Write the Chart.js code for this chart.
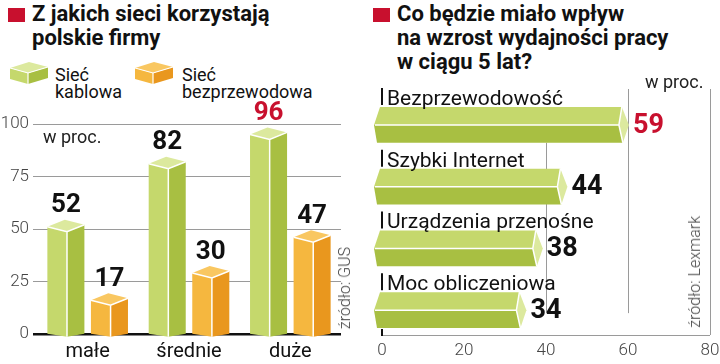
<!DOCTYPE html>
<html>
<head>
<meta charset="utf-8">
<script src="https://cdn.jsdelivr.net/npm/chart.js@4.4.0/dist/chart.umd.min.js"></script>
<style>
  body { margin: 0; background: #fff; font-family: Roboto, sans-serif; color: #111; }
  #page { position: relative; width: 720px; height: 364px; overflow: hidden; }
  .abs { position: absolute; }
  .title { font-size: 22px; font-weight: 700; line-height: 24px; white-space: nowrap; }
  .sq { width: 17px; height: 14px; background: #c8102e; }
  .leg { font-size: 18px; line-height: 17px; white-space: nowrap; }
  .unit { font-size: 18px; line-height: 20px; color: #222; }
  .src { font-size: 16px; font-weight: 300; color: #444; line-height: 18px; white-space: nowrap;
         writing-mode: vertical-rl; transform: rotate(180deg); }
  canvas { position: absolute; top: 0; }
</style>
</head>
<body>
<div id="page">
  <div class="abs sq" style="left:8px;top:8px"></div>
  <div class="abs title" style="left:32px;top:2px">Z jakich sieci korzystają<br>polskie firmy</div>

  <svg class="abs" style="left:10px;top:61px" width="40" height="24">
    <polygon points="0,7 18,12 18,23 0,18" fill="#c5d86c"/>
    <polygon points="18,12 38,6 38,17 18,23" fill="#a8bf42"/>
    <polygon points="0,7 19,1 38,6 18,12" fill="#dce99e"/>
    <polyline points="0,7 18,12 38,6" fill="none" stroke="#fff" stroke-width="1.2"/>
    <line x1="18" y1="12" x2="18" y2="23" stroke="#fff" stroke-width="1.2"/>
  </svg>
  <div class="abs leg" style="left:55px;top:66px">Sieć<br>kablowa</div>
  <svg class="abs" style="left:135px;top:61px" width="40" height="24">
    <polygon points="0,7 18,12 18,23 0,18" fill="#f5b73f"/>
    <polygon points="18,12 38,6 38,17 18,23" fill="#e9971e"/>
    <polygon points="0,7 19,1 38,6 18,12" fill="#f9c761"/>
    <polyline points="0,7 18,12 38,6" fill="none" stroke="#fff" stroke-width="1.2"/>
    <line x1="18" y1="12" x2="18" y2="23" stroke="#fff" stroke-width="1.2"/>
  </svg>
  <div class="abs leg" style="left:182px;top:66px">Sieć<br>bezprzewodowa</div>

  <div class="abs sq" style="left:373px;top:8px"></div>
  <div class="abs title" style="left:397px;top:2px">Co będzie miało wpływ<br>na wzrost wydajności pracy<br>w ciągu 5 lat?</div>

  <canvas id="left" width="360" height="364" style="left:0"></canvas>
  <canvas id="right" width="360" height="364" style="left:360px"></canvas>

  <div class="abs unit" style="left:43px;top:127px">w proc.</div>
  <div class="abs unit" style="left:645px;top:72px">w proc.</div>
  <div class="abs src" style="left:336px;top:247px">źródło: GUS</div>
  <div class="abs src" style="left:686px;top:216px">źródło: Lexmark</div>
</div>

<script>
// left chart: which networks firms use (%)
const sizes = ['małe', 'średnie', 'duże'];
const wired = [52, 82, 96];
const wireless = [17, 30, 47];

// right chart: what will raise productivity within 5 years (%)
const factors = ['Bezprzewodowość', 'Szybki Internet', 'Urządzenia przenośne', 'Moc obliczeniowa'];
const impact = [59, 44, 38, 34];

const GREEN = { left: '#c5d86c', right: '#a8bf42', top: '#dce99e' };
const ORANGE = { left: '#f5b73f', right: '#e9971e', top: '#f9c761' };
const RED = '#c8102e';

function poly(ctx, pts, fill) {
  ctx.beginPath();
  ctx.moveTo(pts[0][0], pts[0][1]);
  for (let i = 1; i < pts.length; i++) ctx.lineTo(pts[i][0], pts[i][1]);
  ctx.closePath();
  ctx.fillStyle = fill;
  ctx.fill();
}

// square prism seen from the corner
function drawColumn(ctx, x, y, base, w, c) {
  const L = x - w / 2, R = x + w / 2, F = L + w * 0.53;
  const cy = y + 1;
  const lc = [L, cy + 1], rc = [R, cy - 1], fc = [F, cy + 6], bc = [L + R - F, cy - 6];
  poly(ctx, [lc, fc, [F, base + 4], [L, base + 1]], c.left);
  poly(ctx, [fc, rc, [R, base + 1], [F, base + 4]], c.right);
  poly(ctx, [lc, bc, rc, fc], c.top);
  ctx.strokeStyle = '#fff';
  ctx.lineWidth = 1.5;
  ctx.beginPath();
  ctx.moveTo(lc[0], lc[1]); ctx.lineTo(fc[0], fc[1]); ctx.lineTo(rc[0], rc[1]);
  ctx.moveTo(fc[0], fc[1]); ctx.lineTo(F, base + 4);
  ctx.stroke();
}

const prismColumns = {
  id: 'prismColumns',
  afterDatasetsDraw(chart) {
    const ctx = chart.ctx;
    const top = Math.max(...wired, ...wireless);
    ctx.save();
    chart.data.datasets.forEach((ds, di) => {
      chart.getDatasetMeta(di).data.forEach((bar, i) => {
        const p = bar.getProps(['x', 'y', 'base', 'width'], true);
        drawColumn(ctx, p.x, p.y, p.base, p.width, di === 0 ? GREEN : ORANGE);
        const v = ds.data[i];
        ctx.fillStyle = v === top ? RED : '#111';
        ctx.font = 'bold 26px Roboto';
        ctx.textAlign = 'center';
        ctx.textBaseline = 'middle';
        ctx.fillText(String(v), p.x, p.y - 19);
      });
    });
    ctx.restore();
  }
};

new Chart(document.getElementById('left'), {
  type: 'bar',
  data: {
    labels: sizes,
    datasets: [
      { data: wired, backgroundColor: 'rgba(0,0,0,0)' },
      { data: wireless, backgroundColor: 'rgba(0,0,0,0)' }
    ]
  },
  options: {
    responsive: false,
    animation: false,
    layout: { padding: { top: 124, right: 19, left: 0, bottom: 0 } },
    plugins: { legend: { display: false }, tooltip: { enabled: false } },
    datasets: { bar: { categoryPercentage: 0.86, barPercentage: 0.85 } },
    scales: {
      x: {
        grid: { display: false, drawTicks: false },
        border: { display: false },
        ticks: { padding: 6, color: '#111', font: { family: 'Roboto', size: 20 } },
        afterFit(s) { s.height = 30; }
      },
      y: {
        min: 0, max: 100,
        border: { display: false },
        ticks: { stepSize: 25, padding: 4, color: '#444', font: { family: 'Roboto', size: 17, weight: 300 } },
        grid: {
          color: c => c.tick.value === 0 ? '#111' : '#9a9a9a',
          lineWidth: c => c.tick.value === 0 ? 2.5 : 1,
          tickLength: 4
        },
        afterFit(s) { s.width = 37; }
      }
    }
  },
  plugins: [prismColumns]
});

// horizontal arrow-shaped bars with labels above
const arrowBars = {
  id: 'arrowBars',
  beforeDatasetsDraw(chart) {
    const ctx = chart.ctx, xs = chart.scales.x, area = chart.chartArea;
    const bars = chart.getDatasetMeta(0).data;
    const first = bars[0], last = bars[bars.length - 1];
    const axisY = area.bottom - 6;
    ctx.save();
    ctx.strokeStyle = '#9a9a9a';
    ctx.lineWidth = 1;
    const vline = (v, y0, y1) => {
      const px = Math.round(xs.getPixelForValue(v)) + 0.5;
      ctx.beginPath(); ctx.moveTo(px, y0); ctx.lineTo(px, y1); ctx.stroke();
    };
    vline(80, area.top - 5, axisY);
    vline(60, area.top - 5, last.y + 3);
    vline(40, first.y + first.height / 2, last.y + 3);
    ctx.beginPath();
    ctx.moveTo(xs.getPixelForValue(0), axisY + 0.5);
    ctx.lineTo(xs.getPixelForValue(80), axisY + 0.5);
    ctx.stroke();
    ctx.strokeStyle = '#111';
    ctx.lineWidth = 2;
    ctx.beginPath();
    ctx.moveTo(xs.getPixelForValue(0), axisY - 6);
    ctx.lineTo(xs.getPixelForValue(0), axisY + 1);
    ctx.stroke();
    ctx.restore();
  },
  afterDatasetsDraw(chart) {
    const ctx = chart.ctx;
    const best = Math.max(...impact);
    ctx.save();
    chart.getDatasetMeta(0).data.forEach((bar, i) => {
      const p = bar.getProps(['x', 'y', 'base', 'height'], true);
      const t = p.y - p.height / 2, b = p.y + p.height / 2, L = p.base - 8, e = p.x;
      poly(ctx, [[L + 6, t], [e - 2, t], [e - 5, p.y], [L, p.y]], GREEN.left);
      poly(ctx, [[L, p.y], [e - 5, p.y], [e - 1, b], [L + 3, b]], GREEN.right);
      poly(ctx, [[e - 2, t], [e + 5, p.y], [e - 1, b], [e - 5, p.y]], GREEN.top);
      ctx.strokeStyle = '#fff';
      ctx.lineWidth = 1.5;
      ctx.beginPath();
      ctx.moveTo(L + 1, p.y); ctx.lineTo(e - 5, p.y);
      ctx.moveTo(e - 2, t); ctx.lineTo(e - 5, p.y); ctx.lineTo(e - 1, b);
      ctx.stroke();

      // label above the bar
      ctx.strokeStyle = '#111';
      ctx.lineWidth = 2;
      ctx.beginPath();
      ctx.moveTo(p.base, t - 19); ctx.lineTo(p.base, t - 2);
      ctx.stroke();
      ctx.fillStyle = '#111';
      ctx.font = '21px Roboto';
      ctx.textAlign = 'left';
      ctx.textBaseline = 'alphabetic';
      ctx.fillText(factors[i], p.base + 5, t - 2);

      const v = impact[i];
      ctx.fillStyle = v === best ? RED : '#111';
      ctx.font = 'bold 27px Roboto';
      ctx.textBaseline = 'middle';
      ctx.fillText(String(v), e + 9, p.y + 1);
    });
    ctx.restore();
  }
};

new Chart(document.getElementById('right'), {
  type: 'bar',
  data: { labels: factors, datasets: [{ data: impact, backgroundColor: 'rgba(0,0,0,0)' }] },
  options: {
    indexAxis: 'y',
    responsive: false,
    animation: false,
    layout: { padding: { top: 94, left: 22, right: 10, bottom: 0 } },
    plugins: { legend: { display: false }, tooltip: { enabled: false } },
    datasets: { bar: { categoryPercentage: 1, barPercentage: 0.58 } },
    scales: {
      x: {
        min: 0, max: 80,
        grid: { display: false, drawTicks: false },
        border: { display: false },
        ticks: { stepSize: 20, padding: 0, color: '#444', font: { family: 'Roboto', size: 17, weight: 300 } },
        afterFit(s) { s.height = 23; }
      },
      y: { display: false }
    }
  },
  plugins: [arrowBars]
});
</script>
</body>
</html>
